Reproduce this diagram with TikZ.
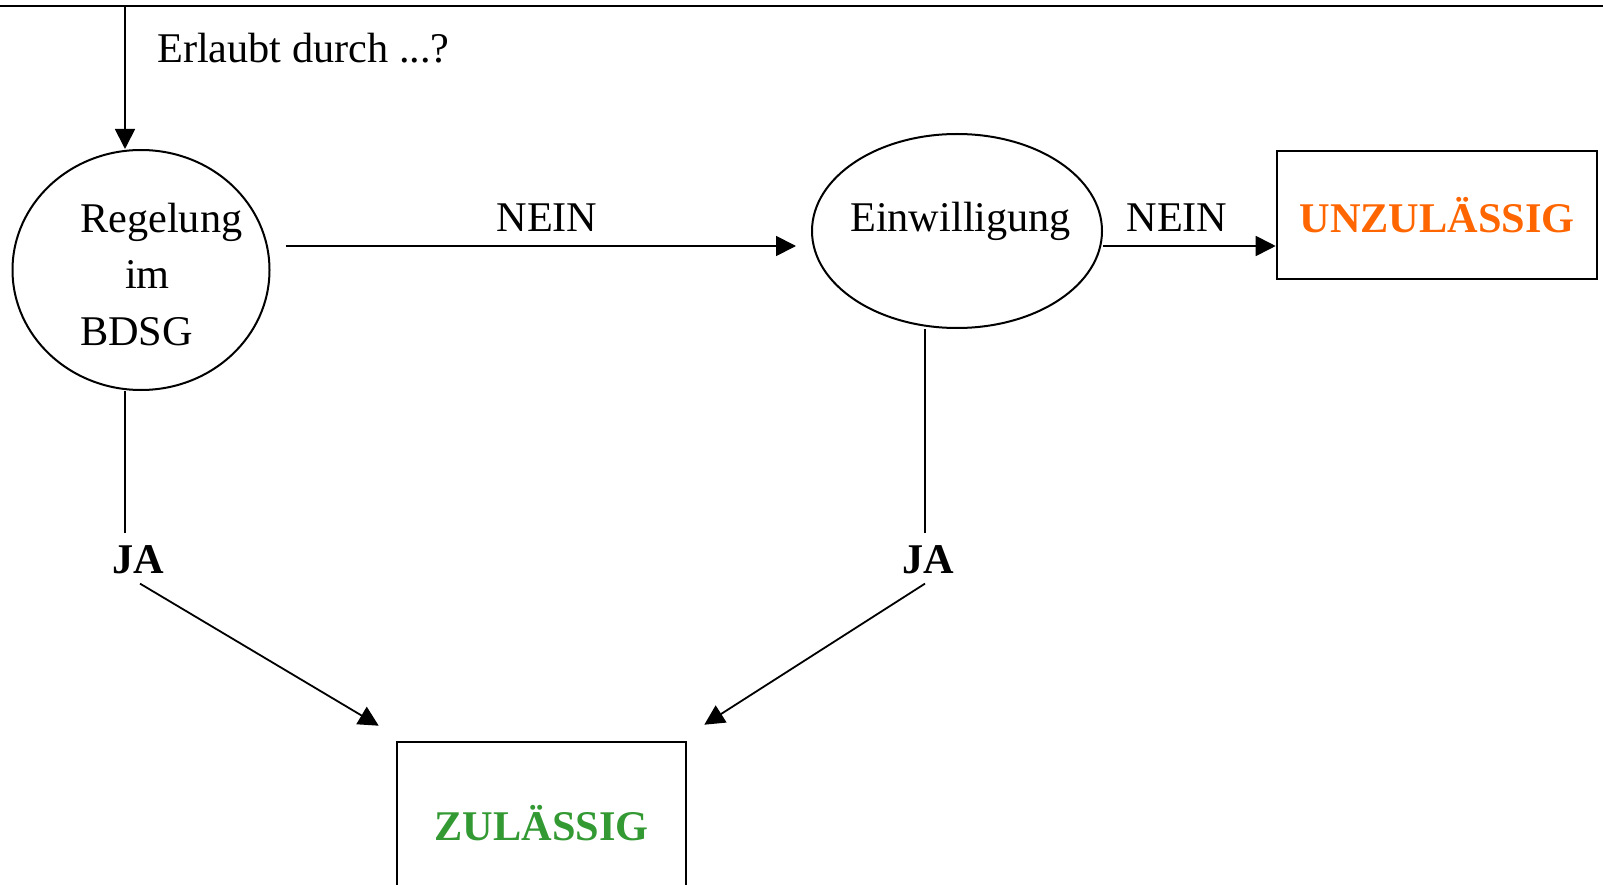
\documentclass[tikz,border=0pt]{standalone}
\usepackage{fontspec}
\setmainfont{Liberation Serif}
\usetikzlibrary{shapes.geometric,arrows.meta,calc}
\definecolor{okgreen}{HTML}{339933}
\definecolor{noorange}{HTML}{FF6600}
\begin{document}
\begin{tikzpicture}[x=1pt,y=1pt,
  every node/.style={font=\fontsize{42.3}{57}\selectfont, inner sep=0pt},
  txt/.style={anchor=base},
  txtl/.style={anchor=base west},
  verdict/.style={draw, line width=2.6pt, font=\fontsize{42.3}{57}\selectfont\bfseries},
  oval/.style={draw, ellipse, line width=2pt},
  conn/.style={line width=1.8pt},
  arr/.style={conn, -{Triangle[width=20pt,length=20pt]}},
]
\useasboundingbox (0,0) rectangle (1603,-885);
\clip (0,0) rectangle (1603,-885);
\fill[white] (0,0) rectangle (1603,-885);

% header rule and question
\draw[line width=2.6pt] (0,-6) -- (1603,-6);
\coordinate (entry) at (125,-6);
\node[txtl] (question) at (157,-63) {Erlaubt durch ...?};

% decision ovals
\node[oval, minimum width=257pt, minimum height=240pt] (reg) at (141,-270) {};
\node[txtl] (reg1) at (80,-233) {Regelung};
\node[txtl] (reg2) at (125,-288) {im};
\node[txtl] (reg3) at (80,-345) {BDSG};

\node[oval, minimum width=290pt, minimum height=194pt] (ein) at (957,-231) {};
\node[txtl] (eintext) at (850,-232) {Einwilligung};

% outcomes
\node[verdict, text=noorange, minimum width=320pt, minimum height=128pt] (unz) at (1437,-215) {UNZUL\"ASSIG};
\node[verdict, text=okgreen, minimum width=289pt, minimum height=162pt] (zul) at (541.5,-823) {ZUL\"ASSIG};

% labels
\node[txt] (nein1) at (547,-232) {NEIN};
\node[txt] (nein2) at (1177,-232) {NEIN};
\node[txt, font=\fontsize{42.3}{57}\selectfont\bfseries] (ja1) at (138,-573) {JA};
\node[txt, font=\fontsize{42.3}{57}\selectfont\bfseries] (ja2) at (928,-573) {JA};

% connectors
\draw[arr] (entry) -- ([xshift=-16pt]reg.north);
\draw[arr] ([shift={(15,24)}]reg.east) -- ([shift={(-15,-15)}]ein.west);
\draw[arr] ([shift={(0,-15)}]ein.east) -- ([shift={(0,-31)}]unz.west);
\draw[conn] ([xshift=-16pt]reg.south) -- ([shift={(-13,12)}]ja1.north);
\draw[conn] ([xshift=-32pt]ein.south) -- ([shift={(-3,12)}]ja2.north);
\draw[arr] ([shift={(2,-10)}]ja1.south) -- ([shift={(-17,15)}]zul.north west);
\draw[arr] ([shift={(-3,-10)}]ja2.south) -- ([shift={(17,16)}]zul.north east);
\end{tikzpicture}
\end{document}
